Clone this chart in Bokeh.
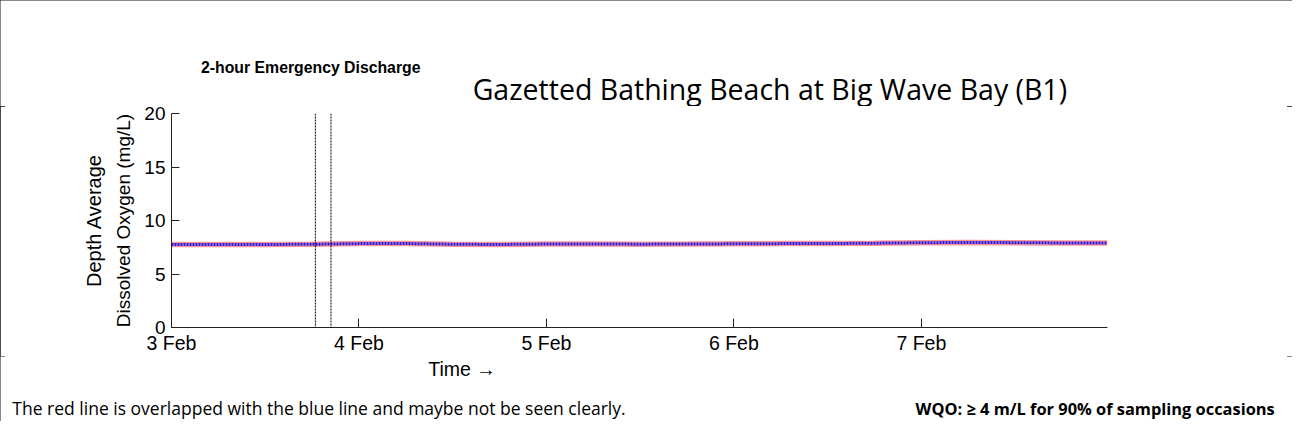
import math
import pandas as pd
from bokeh.plotting import figure
from bokeh.layouts import column
from bokeh.models import (Span, Label, FixedTicker, Range1d, ColumnDataSource,
                          LinearAxis)
from bokeh.embed import file_html
from bokeh.resources import INLINE

# ---------------- data ----------------
chart_title = "Gazetted Bathing Beach at Big Wave Bay (B1)"
event_label = "2-hour Emergency Discharge"
y_label_outer = "Depth Average"
y_label_inner = "Dissolved Oxygen (mg/L)"
x_label = "Time \u2192"
note_left = "The red line is overlapped with the blue line and maybe not be seen clearly."
note_right = "WQO: \u2265 4 m/L for 90% of sampling occasions"

times = [
    "2025-02-03 00:00", "2025-02-03 06:00", "2025-02-03 12:00", "2025-02-03 18:00",
    "2025-02-04 00:00", "2025-02-04 06:00", "2025-02-04 12:00", "2025-02-04 18:00",
    "2025-02-05 00:00", "2025-02-05 06:00", "2025-02-05 12:00", "2025-02-05 18:00",
    "2025-02-06 00:00", "2025-02-06 06:00", "2025-02-06 12:00", "2025-02-06 18:00",
    "2025-02-07 00:00", "2025-02-07 06:00", "2025-02-07 12:00", "2025-02-07 18:00",
    "2025-02-07 23:50",
]
do_red = [7.75, 7.75, 7.76, 7.78, 7.84, 7.85, 7.78, 7.76, 7.80, 7.80, 7.79,
          7.80, 7.82, 7.84, 7.85, 7.88, 7.92, 7.95, 7.93, 7.90, 7.90]
do_blue = [7.75, 7.75, 7.76, 7.78, 7.84, 7.85, 7.78, 7.76, 7.80, 7.80, 7.79,
           7.80, 7.82, 7.84, 7.85, 7.88, 7.92, 7.95, 7.93, 7.90, 7.90]

discharge_start = "2025-02-03 18:25"
discharge_end = "2025-02-03 20:25"

x_start = "2025-02-03 00:00"
x_end = "2025-02-07 23:50"
x_ticks = ["2025-02-03", "2025-02-04", "2025-02-05", "2025-02-06", "2025-02-07"]
x_tick_labels = ["3 Feb", "4 Feb", "5 Feb", "6 Feb", "7 Feb"]
y_ticks = [0, 5, 10, 15, 20]
y_min, y_max = 0, 20


def ms(s):
    return pd.Timestamp(s).value // 10**6


# ---------------- layout ----------------
W, H = 1292, 421
SX, SY = W / 1308, H / 437          # reference px -> page-content px


def fx(rx):
    return rx * SX


def fy(ry):
    return ry * SY


FL, FR, FT, FB = round(fx(173)), round(fx(1121)), round(fy(117)), round(fy(339))
TOP_H = 106
MAIN_BOTTOM = 356
MAIN_H = MAIN_BOTTOM - TOP_H
BOT_H = H - MAIN_BOTTOM


def strip(height):
    f = figure(width=W, height=height, x_range=Range1d(0, W), y_range=Range1d(height, 0),
               x_axis_location=None, y_axis_location=None, min_border=0,
               output_backend="svg", toolbar_location=None, title=None)
    f.outline_line_color = None
    f.grid.visible = False
    f.background_fill_color = "white"
    f.border_fill_color = "white"
    f.frame_align = False
    return f


def add_text(f, y0, text, rx, ry, size, font, style="normal", align="left"):
    f.add_layout(Label(x=fx(rx), y=fy(ry) - y0, text=text, text_font=font,
                       text_font_size=size, text_font_style=style, text_align=align,
                       text_baseline="middle", text_color="black"))


# top strip: event label + title
top = strip(TOP_H)
add_text(top, 0, event_label, 203, 70, "15.8px", "Liberation Sans", style="bold")
add_text(top, 0, chart_title, 478, 91.5, "28.5px", "Open Sans")

# main chart
xs_ms, xe_ms = ms(x_start), ms(x_end)
p = figure(
    width=W, height=MAIN_H, title=None,
    x_axis_type="datetime",
    x_range=Range1d(xs_ms, xe_ms), y_range=Range1d(y_min, y_max),
    output_backend="svg", toolbar_location=None,
    min_border_left=FL, min_border_right=W - FR,
    min_border_top=FT - TOP_H, min_border_bottom=MAIN_BOTTOM - FB,
)
p.frame_align = False
p.outline_line_color = None
p.background_fill_color = "white"
p.border_fill_color = "white"
p.grid.visible = False

src = ColumnDataSource(dict(t=[ms(t) for t in times], red=do_red, blue=do_blue))
p.line("t", "red", source=src, line_color="#ff3030", line_width=5.5, line_alpha=0.5)
p.line("t", "blue", source=src, line_color="#1a1aee", line_width=3, line_dash="2 1")

for d in (discharge_start, discharge_end):
    p.add_layout(Span(location=ms(d), dimension="height", line_color="black",
                      line_width=1, line_dash="2 1"))

tick_font = "Liberation Sans"

xa = p.xaxis[0]
xa.ticker = FixedTicker(ticks=[ms(t) for t in x_ticks])
xa.major_label_overrides = {ms(t): lab for t, lab in zip(x_ticks, x_tick_labels)}
xa.minor_tick_line_color = None
xa.major_tick_in = 9
xa.major_tick_out = 0
xa.major_label_standoff = 4
xa.major_label_text_font = tick_font
xa.major_label_text_font_size = "19.5px"
xa.major_label_text_color = "black"
xa.axis_line_color = "#222222"
xa.major_tick_line_color = "#222222"

ya = p.yaxis[0]
ya.ticker = FixedTicker(ticks=y_ticks)
ya.minor_tick_line_color = None
ya.major_tick_in = 8
ya.major_tick_out = 0
ya.major_label_standoff = 6
ya.major_label_text_font = tick_font
ya.major_label_text_font_size = "19px"
ya.major_label_text_color = "black"
ya.axis_line_color = "#222222"
ya.major_tick_line_color = "#222222"
ya.axis_label = y_label_inner
ya.axis_label_text_font = tick_font
ya.axis_label_text_font_size = "19px"
ya.axis_label_text_font_style = "normal"
ya.axis_label_text_color = "black"
ya.axis_label_standoff = 7

ya2 = LinearAxis(ticker=FixedTicker(ticks=[]), axis_line_color=None,
                 major_tick_line_color=None, minor_tick_line_color=None,
                 major_tick_in=0, major_tick_out=0, major_label_standoff=0,
                 axis_label=y_label_outer, axis_label_text_font=tick_font,
                 axis_label_text_font_size="20px", axis_label_text_font_style="normal",
                 axis_label_text_color="black", axis_label_standoff=6)
p.add_layout(ya2, "left")

# bottom strip: x label + notes
bot = strip(BOT_H)
add_text(bot, MAIN_BOTTOM, x_label, 433, 382, "19.5px", "Liberation Sans")
add_text(bot, MAIN_BOTTOM, note_left, 12, 423, "17.5px", "Open Sans")
add_text(bot, MAIN_BOTTOM, note_right, 1290, 423, "16.4px", "Open Sans", style="bold", align="right")

layout = column(top, p, bot, spacing=0)
layout.styles = {"outline": "5px solid #111111", "outline-offset": "-5px"}

open("out.html", "w").write(file_html(layout, INLINE))
